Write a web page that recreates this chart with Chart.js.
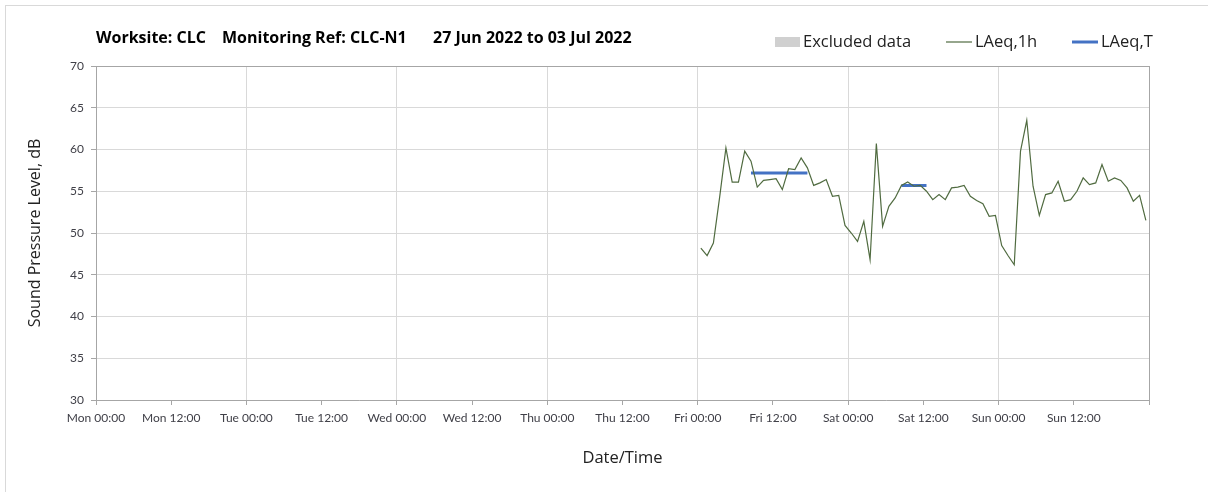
<!DOCTYPE html>
<html lang="en">
<head>
  <meta charset="UTF-8">
  <title>CLC-N1 Noise Monitoring</title>
  <script src="https://cdn.jsdelivr.net/npm/chart.js"></script>
  <style>
    body { margin: 0; background: #fff; }
    .frame { position: relative; width: 1208px; height: 492px; overflow: hidden; }
    .frame::before { content: ''; position: absolute; left: 5px; top: 5px; width: 1300px; height: 600px;
      border-top: 1px solid #d9d9d9; border-left: 1px solid #d9d9d9; }
    canvas { position: absolute; left: 0; top: 0; }
  </style>
</head>
<body>
  <div class="frame">
    <canvas id="noiseChart" width="1208" height="492"></canvas>
  </div>

  <script>
    // Week of 27 Jun 2022 - x axis is hours from Mon 00:00
    const xTickLabels = ['Mon 00:00', 'Mon 12:00', 'Tue 00:00', 'Tue 12:00', 'Wed 00:00', 'Wed 12:00',
      'Thu 00:00', 'Thu 12:00', 'Fri 00:00', 'Fri 12:00', 'Sat 00:00', 'Sat 12:00', 'Sun 00:00', 'Sun 12:00'];
    const yTicks = [30, 35, 40, 45, 50, 55, 60, 65, 70];

    // Hourly LAeq,1h, Fri 00:30 through Sun 23:30 (plotted at mid-hour)
    const firstHour = 96.5;
    const laeq1h = [
      48.2, 47.3, 48.8, 54.3, 60.2, 56.1, 56.1, 59.8, 58.6, 55.5, 56.3, 56.4,
      56.5, 55.2, 57.7, 57.6, 59.0, 57.8, 55.7, 56.0, 56.4, 54.4, 54.5, 50.9,
      50.0, 49.0, 51.4, 46.8, 60.7, 50.8, 53.2, 54.2, 55.7, 56.1, 55.6, 55.7,
      55.0, 54.0, 54.6, 54.0, 55.4, 55.5, 55.7, 54.4, 53.9, 53.5, 52.0, 52.1,
      48.5, 47.3, 46.2, 59.8, 63.5, 55.6, 52.1, 54.6, 54.8, 56.2, 53.8, 54.0,
      55.0, 56.6, 55.8, 56.0, 58.2, 56.2, 56.6, 56.3, 55.4, 53.8, 54.5, 51.5
    ];

    // LAeq,T over the assessment periods (Fri 08:30-17:30, Sat 08:30-12:30)
    const periodStart = [104.5, 128.5];
    const periodEnd = [113.5, 132.5];
    const periodLevel = [57.2, 55.7];

    const hourlyPoints = laeq1h.map((v, i) => ({ x: firstHour + i, y: v }));
    const periodPoints = [];
    periodLevel.forEach((v, i) => {
      if (i > 0) periodPoints.push({ x: periodStart[i] - 0.5, y: null });
      periodPoints.push({ x: periodStart[i], y: v }, { x: periodEnd[i], y: v });
    });

    const textColor = '#404048';
    const gridColor = '#d9d9d9';
    const axisColor = '#a6a6a6';

    const tickValue = ctx => (ctx.tick ? ctx.tick.value : NaN);

    // title and legend share the top row, so draw them ourselves
    const headerPlugin = {
      id: 'header',
      afterDraw(chart) {
        const ctx = chart.ctx;
        const ds = chart.data.datasets;
        ctx.save();
        ctx.textBaseline = 'middle';
        ctx.fillStyle = '#000';
        ctx.font = 'bold 16px "Open Sans"';
        ctx.fillText('Worksite: CLC', 96, 38);
        ctx.fillText('Monitoring Ref: CLC-N1', 222, 38);
        ctx.fillText('27 Jun 2022 to 03 Jul 2022', 433, 38);

        ctx.font = '16.5px "Open Sans"';
        // Excluded data
        ctx.fillStyle = ds[0].backgroundColor;
        ctx.fillRect(775, 37, 25, 10);
        ctx.fillStyle = '#222';
        ctx.fillText(ds[0].label, 803, 42);
        // LAeq,1h
        ctx.strokeStyle = ds[1].borderColor;
        ctx.lineWidth = 1.2;
        ctx.beginPath(); ctx.moveTo(946, 42); ctx.lineTo(972, 42); ctx.stroke();
        ctx.fillText(ds[1].label, 975, 42);
        // LAeq,T
        ctx.strokeStyle = ds[2].borderColor;
        ctx.lineWidth = 3;
        ctx.beginPath(); ctx.moveTo(1072, 42); ctx.lineTo(1098, 42); ctx.stroke();
        ctx.fillText(ds[2].label, 1101, 42);
        ctx.restore();
      }
    };

    new Chart(document.getElementById('noiseChart'), {
      type: 'line',
      data: {
        datasets: [
          { type: 'bar', label: 'Excluded data', data: [], backgroundColor: '#d0d0d0' },
          {
            label: 'LAeq,1h',
            data: hourlyPoints,
            borderColor: '#506b40',
            borderWidth: 1.2,
            pointRadius: 0,
            tension: 0
          },
          {
            label: 'LAeq,T',
            data: periodPoints,
            borderColor: '#4472c4',
            borderWidth: 3,
            pointRadius: 0,
            spanGaps: false
          }
        ]
      },
      options: {
        responsive: false,
        animation: false,
        layout: { padding: { top: 66, right: 59, left: 0, bottom: 0 } },
        plugins: {
          legend: { display: false },
          tooltip: { enabled: false }
        },
        scales: {
          x: {
            type: 'linear',
            min: 0,
            max: 168,
            offset: false,
            afterFit: scale => { scale.height = 92; },
            ticks: {
              stepSize: 12,
              color: textColor,
              font: { family: 'Lato', size: 12 },
              padding: 6,
              maxRotation: 0,
              autoSkip: false,
              callback: v => xTickLabels[v / 12] || ''
            },
            grid: {
              offset: false,
              color: ctx => {
                const v = tickValue(ctx);
                if (v === 168) return axisColor;
                return v % 24 === 0 ? gridColor : 'rgba(0,0,0,0)';
              },
              tickColor: axisColor,
              tickLength: 5
            },
            border: { color: axisColor },
            title: {
              display: true,
              text: 'Date/Time',
              color: '#222',
              font: { family: 'Open Sans', size: 16.5 },
              padding: { top: 0, bottom: 24 }
            }
          },
          y: {
            min: yTicks[0],
            max: yTicks[yTicks.length - 1],
            afterFit: scale => { scale.width = 96; },
            ticks: {
              stepSize: 5,
              color: textColor,
              font: { family: 'Lato', size: 12 },
              padding: 7
            },
            grid: {
              color: ctx => (tickValue(ctx) === 70 ? axisColor : gridColor),
              tickColor: axisColor,
              tickLength: 5
            },
            border: { color: axisColor },
            title: {
              display: true,
              text: 'Sound Pressure Level, dB',
              color: '#222',
              font: { family: 'Open Sans', size: 16 },
              padding: { top: 26, bottom: 0 }
            }
          }
        }
      },
      plugins: [headerPlugin]
    });
  </script>
</body>
</html>
